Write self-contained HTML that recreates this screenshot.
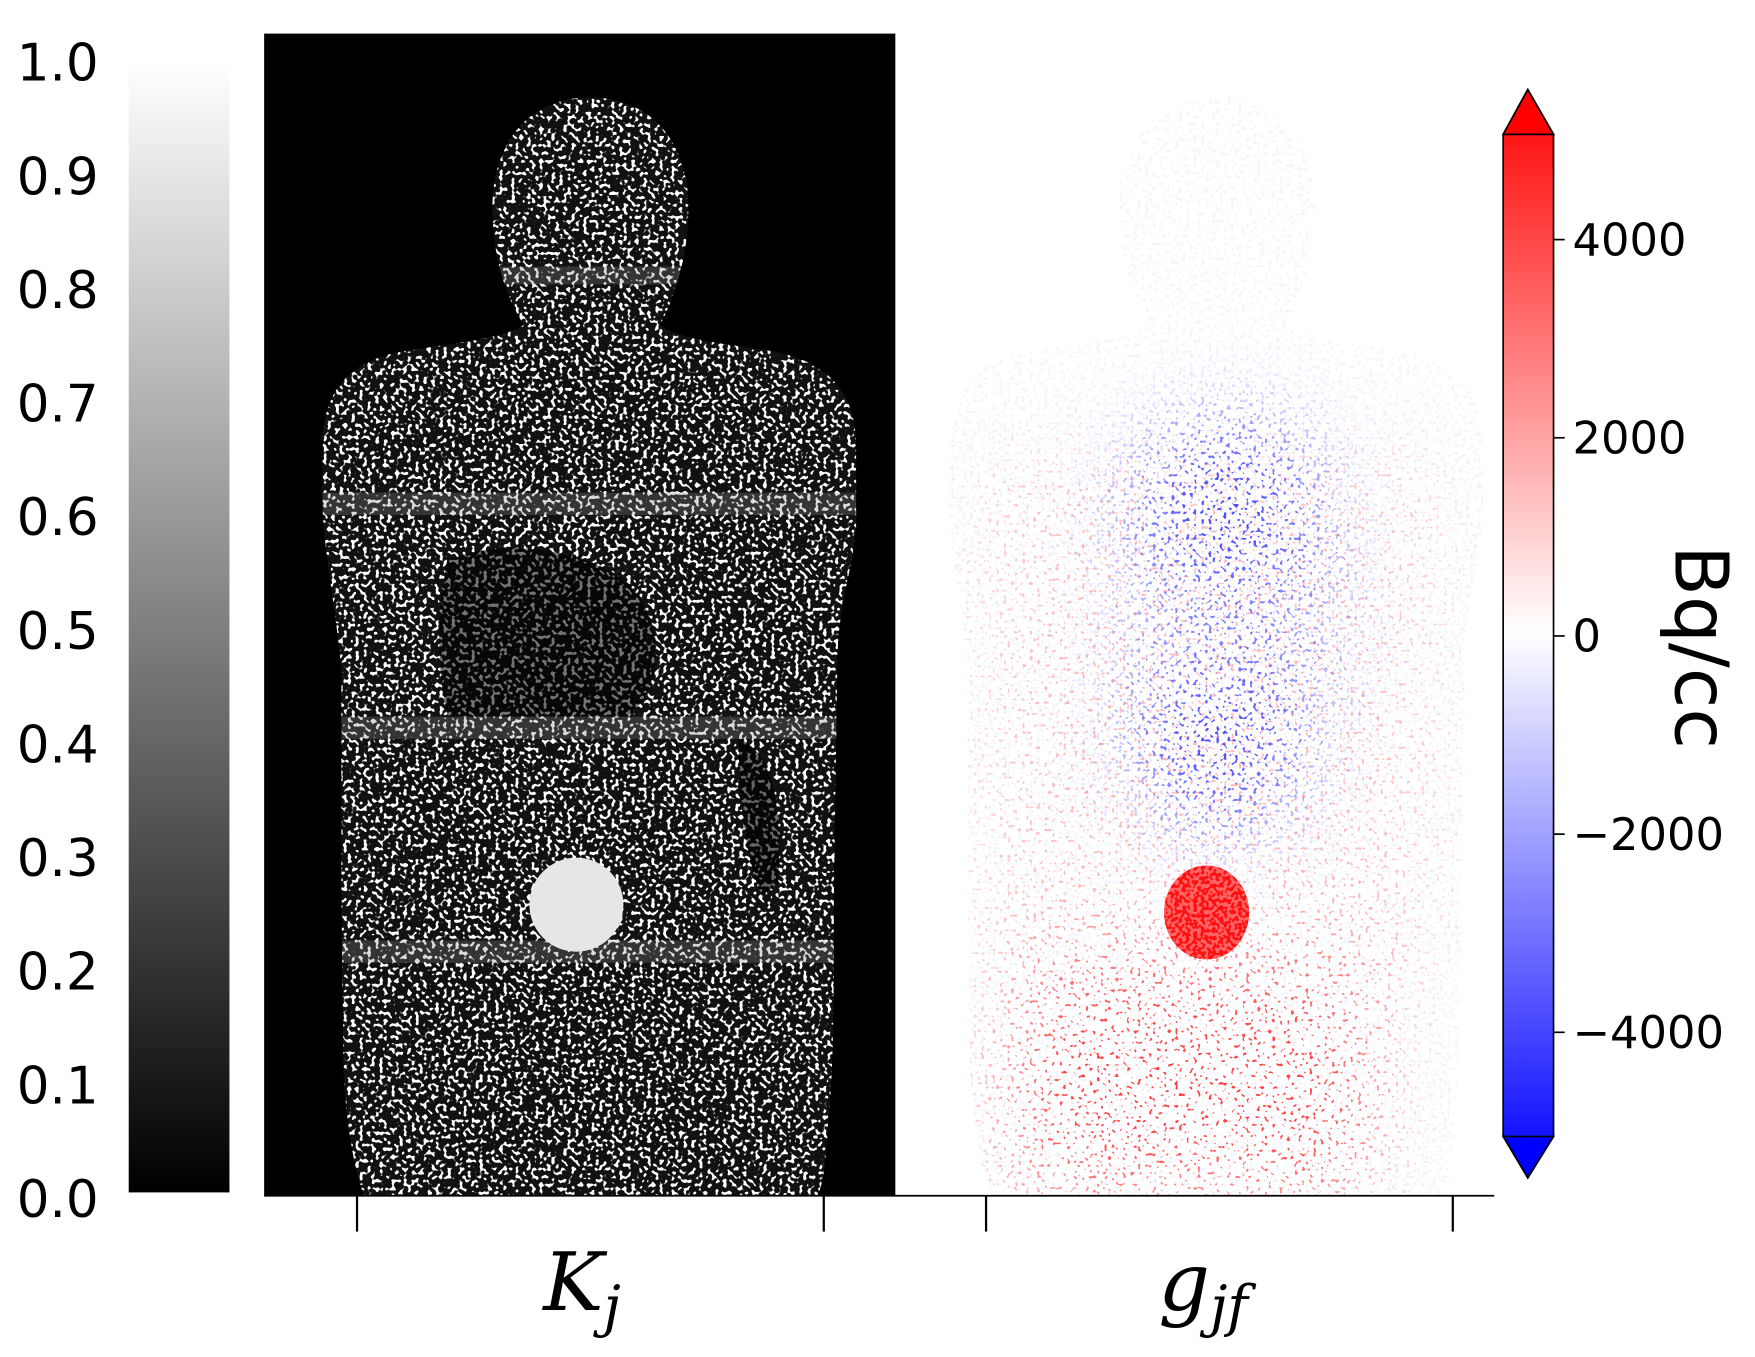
<!DOCTYPE html>
<html><head><meta charset="utf-8"><style>
html,body{margin:0;padding:0;background:#fff;}
svg{display:block;}
text{font-family:"DejaVu Sans","Liberation Sans",sans-serif;fill:#000;}
</style></head><body>
<svg width="1755" height="1357" viewBox="0 0 1568 1212" preserveAspectRatio="none" xmlns="http://www.w3.org/2000/svg">
<defs>
  <linearGradient id="gray" x1="0" y1="1" x2="0" y2="0">
    <stop offset="0" stop-color="#000"/><stop offset="1" stop-color="#fff"/>
  </linearGradient>
  <linearGradient id="bwr" x1="0" y1="1" x2="0" y2="0">
    <stop offset="0" stop-color="#0000ff"/><stop offset="0.5" stop-color="#ffffff"/><stop offset="1" stop-color="#ff0000"/>
  </linearGradient>
  <clipPath id="bodyL"><path d="M527,87 C580,87 615,125 615,185 C615,235 600,270 590,290 C600,300 630,305 680,312 C740,320 765,350 765,400 L765,470 C760,520 748,540 748,600 L745,800 C745,880 745,960 740,1000 C738,1040 735,1060 730,1068 L325,1068 C318,1050 310,1010 307,960 L305,800 L305,600 C300,540 290,500 288,450 L288,400 C288,350 310,320 370,312 C420,305 455,300 468,290 C455,270 440,235 440,185 C440,125 475,87 527,87 Z"/></clipPath>
  <clipPath id="bodyR"><path transform="translate(560,0)" d="M527,87 C580,87 615,125 615,185 C615,235 600,270 590,290 C600,300 630,305 680,312 C740,320 765,350 765,400 L765,470 C760,520 748,540 748,600 L745,800 C745,880 745,960 740,1000 C738,1040 735,1060 730,1068 L325,1068 C318,1050 310,1010 307,960 L305,800 L305,600 C300,540 290,500 288,450 L288,400 C288,350 310,320 370,312 C420,305 455,300 468,290 C455,270 440,235 440,185 C440,125 475,87 527,87 Z"/></clipPath>
  <filter id="blur30" x="-50%" y="-50%" width="200%" height="200%"><feGaussianBlur stdDeviation="40"/></filter>
  <mask id="maskBlue" maskUnits="userSpaceOnUse" x="800" y="0" width="600" height="1100">
    <g filter="url(#blur30)">
      <ellipse cx="1095" cy="460" rx="90" ry="90" fill="#fff"/>
      <ellipse cx="1090" cy="640" rx="80" ry="110" fill="#fff"/>
      <ellipse cx="1110" cy="560" rx="100" ry="60" fill="#888"/>
    </g>
  </mask>
  <mask id="maskRed" maskUnits="userSpaceOnUse" x="800" y="0" width="600" height="1100">
    <g filter="url(#blur30)">
      <rect x="900" y="870" width="330" height="200" fill="#fff"/>
      <rect x="870" y="400" width="420" height="460" fill="#555"/>
    </g>
  </mask>
  <clipPath id="lesionClip"><ellipse cx="1078" cy="815" rx="38" ry="42"/></clipPath>
  <clipPath id="lesionClipL"><ellipse cx="515" cy="808" rx="42" ry="42"/></clipPath>
  <filter id="speckW" x="0" y="0" width="100%" height="100%">
    <feTurbulence type="fractalNoise" baseFrequency="0.28" numOctaves="1" seed="3"/>
    <feColorMatrix type="matrix" values="0 0 0 0 1  0 0 0 0 1  0 0 0 0 1  16 0 0 0 -8.8"/>
  </filter>
  <filter id="speckR" x="0" y="0" width="100%" height="100%">
    <feTurbulence type="fractalNoise" baseFrequency="0.3" numOctaves="1" seed="8"/>
    <feColorMatrix type="matrix" values="0 0 0 0 1  0 0 0 0 0.05  0 0 0 0 0.05  20 0 0 0 -12.6"/>
  </filter>
  <filter id="speckB" x="0" y="0" width="100%" height="100%">
    <feTurbulence type="fractalNoise" baseFrequency="0.3" numOctaves="1" seed="21"/>
    <feColorMatrix type="matrix" values="0 0 0 0 0.05  0 0 0 0 0.05  0 0 0 0 1  20 0 0 0 -12"/>
  </filter>
  <filter id="speckLB" x="0" y="0" width="100%" height="100%">
    <feTurbulence type="fractalNoise" baseFrequency="0.3" numOctaves="1" seed="40"/>
    <feColorMatrix type="matrix" values="0 0 0 0 0.8  0 0 0 0 0.82  0 0 0 0 1  12 0 0 0 -6.8"/>
  </filter>
  <filter id="speckL2" x="0" y="0" width="100%" height="100%">
    <feTurbulence type="fractalNoise" baseFrequency="0.3" numOctaves="1" seed="55"/>
    <feColorMatrix type="matrix" values="0 0 0 0 1  0 0 0 0 1  0 0 0 0 1  -16 0 0 0 8.5"/>
  </filter>
</defs>

<rect x="115" y="55" width="90" height="1010" fill="url(#gray)"/>
<g id="grayTicks"></g>

<g>
  <rect x="236" y="30" width="564" height="1038" fill="#000"/>
  <g clip-path="url(#bodyL)">
    <rect x="236" y="30" width="564" height="1038" fill="#111"/>
    <rect x="236" y="30" width="564" height="1038" filter="url(#speckW)"/>
    <path d="M400,500 C450,480 520,490 560,520 C600,560 590,620 560,640 L400,640 C390,600 390,540 400,500 Z" fill="#000" opacity="0.55"/>
    <path d="M660,660 C690,670 700,720 695,790 L680,800 C665,760 660,710 660,660 Z" fill="#000" opacity="0.6"/>
    <rect x="236" y="440" width="564" height="20" fill="#888" opacity="0.3"/>
    <rect x="236" y="640" width="564" height="20" fill="#888" opacity="0.3"/>
    <rect x="236" y="840" width="564" height="20" fill="#888" opacity="0.3"/>
    <rect x="236" y="238" width="564" height="16" fill="#888" opacity="0.3"/>
    <ellipse cx="515" cy="808" rx="42" ry="42" fill="#e6e6e6"/>
  </g>
</g>

<g>
  <rect x="800" y="30" width="565" height="1038" fill="#fff"/>
  <g clip-path="url(#bodyR)">
    <rect x="836" y="30" width="529" height="1038" filter="url(#speckLB)" opacity="0.45"/>
    <rect x="836" y="300" width="529" height="768" filter="url(#speckR)" mask="url(#maskRed)"/>
    <rect x="836" y="300" width="529" height="768" filter="url(#speckB)" mask="url(#maskBlue)"/>
  </g>
  <g>
    <ellipse cx="1078" cy="815" rx="38" ry="42" fill="#f11"/>
    <rect x="1035" y="770" width="90" height="90" filter="url(#speckL2)" opacity="0.35" clip-path="url(#lesionClip)"/>
  </g>
</g>

<line x1="236" y1="1068" x2="1335" y2="1068" stroke="#000" stroke-width="1.5"/>
<g id="xTicks"></g>
<text x="520" y="1170" font-size="72" font-style="italic" text-anchor="middle" style="font-family:'DejaVu Serif','Liberation Serif',serif">K<tspan font-size="50" dy="14">j</tspan></text>
<text x="1075" y="1170" font-size="72" font-style="italic" text-anchor="middle" style="font-family:'DejaVu Serif','Liberation Serif',serif">g<tspan font-size="50" dy="14">jf</tspan></text>

<path d="M1343,120 L1365,80 L1388,120 L1388,1015 L1365,1052 L1343,1015 Z" fill="url(#bwr)" stroke="#000" stroke-width="1.5"/>
<path d="M1343,120 L1365,80 L1388,120 Z" fill="#ff0000" stroke="#000" stroke-width="1.5"/>
<path d="M1343,1015 L1365,1052 L1388,1015 Z" fill="#0000ff" stroke="#000" stroke-width="1.5"/>
<g id="bwrTicks"></g>
<text transform="translate(1497,578) rotate(90)" font-size="66" text-anchor="middle">Bq/cc</text>

<script>
const grayTickValues = [0.0,0.1,0.2,0.3,0.4,0.5,0.6,0.7,0.8,0.9,1.0];
const grayTickLabels = ["0.0","0.1","0.2","0.3","0.4","0.5","0.6","0.7","0.8","0.9","1.0"];
const bwrTickValues = [-4000,-2000,0,2000,4000];
const bwrTickLabels = ["\u22124000","\u22122000","0","2000","4000"];
const xTickPositions = [319,736,881,1298];
const NS = "http://www.w3.org/2000/svg";
function grayY(v){ return 1070 - v*1015; }
function bwrY(v){ return 568 - v*(177/2000); }
const gt = document.getElementById('grayTicks');
grayTickValues.forEach((v,i)=>{
  const t = document.createElementNS(NS,'text');
  t.setAttribute('x',15); t.setAttribute('y',grayY(v)+17);
  t.setAttribute('font-size','46');
  t.textContent = grayTickLabels[i];
  
  
  gt.appendChild(t);
});
const bt = document.getElementById('bwrTicks');
bwrTickValues.forEach((v,i)=>{
  const y = bwrY(v);
  const l = document.createElementNS(NS,'line');
  l.setAttribute('x1',1388); l.setAttribute('x2',1398); l.setAttribute('y1',y); l.setAttribute('y2',y);
  l.setAttribute('stroke','#000'); l.setAttribute('stroke-width','1.5');
  
  
  bt.appendChild(l);
  const t = document.createElementNS(NS,'text');
  t.setAttribute('x',1405); t.setAttribute('y',y+14);
  t.setAttribute('font-size','40');
  t.textContent = bwrTickLabels[i];
  
  
  bt.appendChild(t);
});
const xt = document.getElementById('xTicks');
xTickPositions.forEach(x=>{
  const l = document.createElementNS(NS,'line');
  l.setAttribute('x1',x); l.setAttribute('x2',x); l.setAttribute('y1',1068); l.setAttribute('y2',1100);
  l.setAttribute('stroke','#000'); l.setAttribute('stroke-width','2');
  
  
  xt.appendChild(l);
});
</script>
</svg>
</body></html>
